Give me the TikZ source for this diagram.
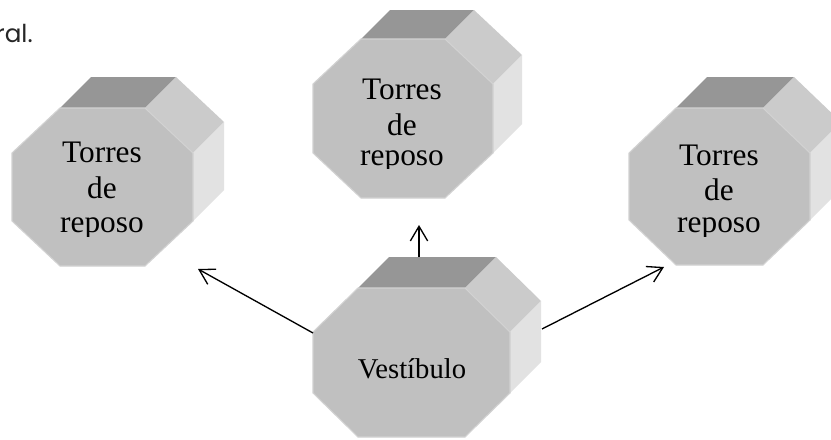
\documentclass[tikz,border=0pt]{standalone}
\usepackage{fontspec}
\setmainfont{Liberation Serif}
\newfontfamily\gothic{Poppins}
\usetikzlibrary{arrows.meta}
\definecolor{topgray}{HTML}{969696}
\definecolor{sideup}{HTML}{CBCBCB}
\definecolor{sidelow}{HTML}{E2E2E2}
\definecolor{frontgray}{HTML}{C0C0C0}
\definecolor{edgegray}{HTML}{D2D2D2}
\tikzset{
  topface/.style={fill=topgray},
  sideupface/.style={fill=sideup},
  sidelowface/.style={fill=sidelow},
  frontface/.style={fill=frontgray, draw=edgegray, line width=0.8pt, line join=miter},
  lbl/.style={font=\fontsize{23.5}{28}\selectfont, anchor=base, inner sep=0pt, text=black},
  vlbl/.style={font=\fontsize{21.5}{25}\selectfont, anchor=base, inner sep=0pt, text=black},
  arr/.style={draw=black, line width=1pt, -{Straight Barb[length=11pt,width=13pt,line width=1pt]}},
}
% #1 x0, #2 y0, #3 W, #4 H, #5 cx, #6 cy, #7 name, #8 depth
\newcommand\octo[8]{%
  \coordinate (#7-A) at ({#1+#5},{#2});
  \coordinate (#7-B) at ({#1+#3-#5},{#2});
  \coordinate (#7-C) at ({#1+#3},{#2+#6});
  \coordinate (#7-D) at ({#1+#3},{#2+#4-#6});
  \coordinate (#7-E) at ({#1+#3-#5},{#2+#4});
  \coordinate (#7-F) at ({#1+#5},{#2+#4});
  \coordinate (#7-G) at ({#1},{#2+#4-#6});
  \coordinate (#7-H) at ({#1},{#2+#6});
  \fill[topface] (#7-A) -- (#7-B) -- ([shift={(#8,-#8)}]#7-B) -- ([shift={(#8,-#8)}]#7-A) -- cycle;
  \fill[sideupface] (#7-B) -- (#7-C) -- ([shift={(#8,-#8)}]#7-C) -- ([shift={(#8,-#8)}]#7-B) -- cycle;
  \fill[sidelowface] (#7-C) -- (#7-D) -- ([shift={(#8,-#8)}]#7-D) -- ([shift={(#8,-#8)}]#7-C) -- cycle;
  \path[frontface] (#7-A) -- (#7-B) -- (#7-C) -- (#7-D) -- (#7-E) -- (#7-F) -- (#7-G) -- (#7-H) -- cycle;
}
\begin{document}
\begin{tikzpicture}[x=0.75pt,y=-0.75pt]
\clip (0,0) rectangle (831,439);
\fill[white] (0,0) rectangle (831,439);

\node[anchor=base east, inner sep=0pt, font=\gothic\fontsize{18.5}{22}\selectfont, text=black!85] (frag) at (33,42) {ral.};

% left tower
\octo{12}{108}{181}{158}{48}{45}{tl}{31}
\begin{scope}
\clip (12,100) rectangle (193,236.5);
\node[lbl] (tl1) at (102,162) {Torres};
\node[lbl] (tl2) at (102,198) {de};
\node[lbl] (tl3) at (102,232) {reposo};
\end{scope}

% top tower
\octo{313}{39}{180}{159}{48}{45}{tm}{29}
\begin{scope}
\clip (313,30) rectangle (493,168.3);
\node[lbl] (tm1) at (402,99) {Torres};
\node[lbl] (tm2) at (402,135) {de};
\node[lbl] (tm3) at (402,165) {reposo};
\end{scope}

% right tower
\octo{629}{108}{181}{157}{47}{45}{tr}{31}
\begin{scope}
\clip (629,100) rectangle (810,236.5);
\node[lbl] (tr1) at (719,165) {Torres};
\node[lbl] (tr2) at (719,200) {de};
\node[lbl] (tr3) at (719,232) {reposo};
\end{scope}

% vestibulo
\octo{313}{288}{197}{149}{45}{44}{vb}{31}
\node[vlbl] (vbt) at (412,378) {Vestíbulo};

% arrow ends
\coordinate (aL0) at (313,333);
\coordinate (aL1) at (198,269);
\coordinate (aM0) at (419,257);
\coordinate (aM1) at (419,225);
\coordinate (aR0) at (542,329);
\coordinate (aR1) at (664,267);
\draw[arr] (aL0) -- (aL1);
\draw[arr] (aM0) -- (aM1);
\draw[arr] (aR0) -- (aR1);
\end{tikzpicture}
\end{document}
